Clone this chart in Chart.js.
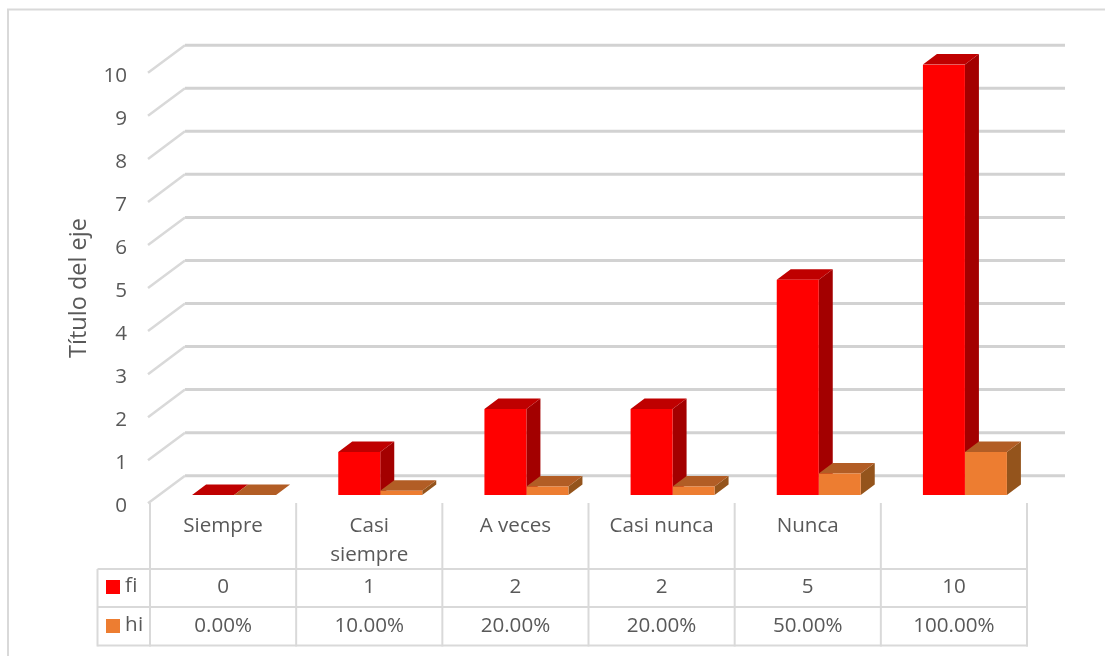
<!DOCTYPE html>
<html lang="es">
<head>
<meta charset="utf-8">
<title>Título del eje</title>
<script src="https://cdn.jsdelivr.net/npm/chart.js@4/dist/chart.umd.min.js"></script>
<style>
  html, body { margin: 0; padding: 0; background: #fff; overflow: hidden; }
  canvas { display: block; }
</style>
</head>
<body>
<canvas id="grafico" width="1105" height="656"></canvas>
<script>
var categorias = ["Siempre", ["Casi", "siempre"], "A veces", "Casi nunca", "Nunca", ""];
var fi = [0, 1, 2, 2, 5, 10];
var hi = [0, 0.1, 0.2, 0.2, 0.5, 1];
var hiTexto = ["0.00%", "10.00%", "20.00%", "20.00%", "50.00%", "100.00%"];
var tituloEje = "Título del eje";

var fuente = "'Open Sans', sans-serif";
var gris = "#595959";
var linea = "#D9D9D9";

// bar depth and colours for the top and side faces
var fondoX = 14, fondoY = 10.5;
var caras = [
    { frente: "#FF0000", arriba: "#BF0000", lado: "#A30000" },
    { frente: "#ED7D31", arriba: "#B25D25", lado: "#94541C" }
];

function segmento(c, x1, y1, x2, y2) {
    c.beginPath();
    c.moveTo(x1, y1);
    c.lineTo(x2, y2);
    c.stroke();
}

function poligono(c, color, p) {
    c.fillStyle = color;
    c.beginPath();
    c.moveTo(p[0], p[1]);
    for (var i = 2; i < p.length; i += 2) c.lineTo(p[i], p[i + 1]);
    c.closePath();
    c.fill();
}

var efecto3d = {
    id: "efecto3d",
    beforeDraw: function (chart) {
        var c = chart.ctx, y = chart.scales.y;
        c.save();
        // outer frame, runs off the right and bottom of the page
        c.strokeStyle = linea;
        c.lineWidth = 2;
        c.strokeRect(8, 9.5, 1300, 900);

        // back wall lines with their slanted piece
        y.ticks.forEach(function (t) {
            var py = y.getPixelForValue(t.value);
            c.strokeStyle = "#D2D2D2";
            c.lineWidth = 3;
            segmento(c, 185, py - 19.3, 1065, py - 19.3);
            c.strokeStyle = linea;
            c.lineWidth = 2.5;
            segmento(c, 148, py + 8.3, 185, py - 19.3);
        });
        c.restore();
    },
    beforeDatasetsDraw: function (chart) {
        var c = chart.ctx;
        // top and side faces, the library paints the front on top of them
        chart.data.datasets.forEach(function (ds, n) {
            chart.getDatasetMeta(n).data.forEach(function (b) {
                var izq = b.x - b.width / 2, der = b.x + b.width / 2;
                poligono(c, caras[n].lado, [der, b.y, der + fondoX, b.y - fondoY, der + fondoX, b.base - fondoY, der, b.base]);
                poligono(c, caras[n].arriba, [izq, b.y, izq + fondoX, b.y - fondoY, der + fondoX, b.y - fondoY, der, b.y]);
            });
        });
    },
    afterDraw: function (chart) {
        var c = chart.ctx, x = chart.scales.x;
        var ancho = x.getPixelForValue(1) - x.getPixelForValue(0);
        var y0 = 503, y1 = 569, y2 = 607, y3 = 645.5;
        var izq = x.getPixelForValue(0) - ancho / 2 - 11;
        c.save();

        // data table under the axis
        c.strokeStyle = linea;
        c.lineWidth = 2;
        for (var i = 0; i <= fi.length; i++) {
            var px = izq + i * ancho;
            segmento(c, px, y0, px, y3 + 1);
        }
        segmento(c, 97.5, y1, 97.5, y3 + 1);
        [y1, y2, y3].forEach(function (py) {
            segmento(c, 97.5, py, izq + fi.length * ancho + 1, py);
        });

        c.fillStyle = gris;
        c.font = "20.6px " + fuente;
        c.textAlign = "center";
        c.textBaseline = "middle";
        for (var j = 0; j < fi.length; j++) {
            var cx = x.getPixelForValue(j) - 11;
            c.fillText(String(fi[j]), cx, (y1 + y2) / 2 - 1);
            c.fillText(hiTexto[j], cx, (y2 + y3) / 2);
        }

        // series keys in the first column, spaced so "fi" stays two letters
        c.textAlign = "left";
        c.letterSpacing = "0.4px";
        chart.data.datasets.forEach(function (ds, n) {
            var centro = n === 0 ? 587 : 626;
            c.fillStyle = caras[n].frente;
            c.fillRect(106, centro - 7, 14, 14);
            c.fillStyle = gris;
            c.fillText(ds.label, 125, centro - 1);
        });
        c.letterSpacing = "0px";

        // axis title
        c.font = "23.5px " + fuente;
        c.translate(79.5, 288);
        c.rotate(-Math.PI / 2);
        c.textAlign = "center";
        c.fillText(tituloEje, 0, 0);
        c.restore();
    }
};

new Chart(document.getElementById("grafico"), {
    type: "bar",
    data: {
        labels: categorias,
        datasets: [
            { label: "fi", data: fi, backgroundColor: caras[0].frente },
            { label: "hi", data: hi, backgroundColor: caras[1].frente }
        ]
    },
    options: {
        responsive: false,
        animation: false,
        layout: { padding: { left: 0, top: 64.5, right: 67, bottom: 0 } },
        datasets: { bar: { barPercentage: 1, categoryPercentage: 0.5746 } },
        plugins: { legend: { display: false }, tooltip: { enabled: false } },
        scales: {
            x: {
                afterFit: function (s) { s.height = 161; },
                border: { display: false },
                grid: { display: false },
                ticks: {
                    autoSkip: false,
                    maxRotation: 0,
                    padding: 9,
                    labelOffset: -11,
                    color: gris,
                    font: { family: fuente, size: 20.6, lineHeight: 1.41 }
                }
            },
            y: {
                min: 0,
                max: 10,
                afterFit: function (s) { s.width = 161; },
                border: { display: false },
                grid: { display: false },
                ticks: {
                    stepSize: 1,
                    padding: 26,
                    labelOffset: 11.5,
                    color: gris,
                    font: { family: fuente, size: 20.6 }
                }
            }
        }
    },
    plugins: [efecto3d]
});
</script>
</body>
</html>
